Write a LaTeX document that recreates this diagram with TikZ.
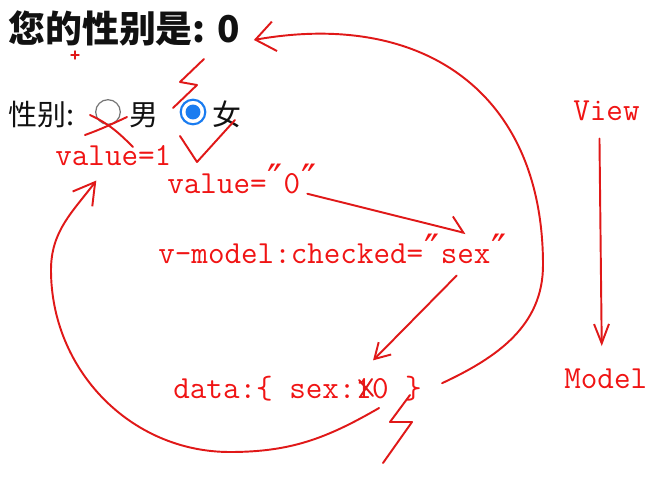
\documentclass[tikz,border=0pt]{standalone}
\usepackage{fontspec}
\usetikzlibrary{arrows.meta}
\newfontfamily\cjk{Noto Sans CJK SC}
\newfontfamily\quotefont{DejaVu Sans}
\newcommand\dq{\makebox[0.525em]{\quotefont\fontsize{23}{23}\selectfont ″}}
\definecolor{Paper}{HTML}{FFFFFF}
\definecolor{Ink}{HTML}{111111}
\definecolor{Pen}{HTML}{E01818}
\definecolor{Note}{HTML}{F01414}
\definecolor{Ring}{HTML}{767676}
\definecolor{Pick}{HTML}{1A7CF0}
\tikzset{
  pagetext/.style={anchor=base west,inner sep=0pt,font=\cjk\fontsize{16.5}{18}\selectfont,text=Ink},
  headtext/.style={pagetext,font=\cjk\bfseries\fontsize{21}{24}\selectfont},
  note/.style={anchor=base west,inner sep=0pt,font=\ttfamily\fontsize{18.3}{20}\selectfont,text=Note},
  radiooff/.style={circle,draw=Ring,line width=0.7pt,fill=white,minimum size=14pt,inner sep=0pt},
  radioon/.style={circle,draw=Pick,line width=1.2pt,fill=white,minimum size=14pt,inner sep=0pt},
  pen/.style={draw=Pen,line width=1.1pt,line cap=round,line join=round}
}

\begin{document}
\begin{tikzpicture}[x=0.02cm,y=-0.02cm]
  \fill[Paper] (0,0) rectangle (653,477);
  \useasboundingbox (0,0) rectangle (653,477);
  \node[headtext] (title) at (8,42) {您的性别是: 0};
  \node[pagetext] (sexlbl) at (8,125) {性别:};
  \node[radiooff] (radM) at (108,112) {};
  \node[pagetext] (boy) at (129,125) {男};
  \node[radioon] (radF) at (193,112) {};
  \node[circle,fill=Pick,inner sep=0pt,minimum size=8.5pt] (dotF) at (radF) {};
  \node[pagetext] (girl) at (212,125) {女};
  \node[note] (val1) at (55,165) {value=1};
  \node[note] (val0) at (167,193) {value=\dq0\dq};
  \node[note] (vmod) at (158,263) {v-model:checked=};
  \node[note] (sexq) at (vmod.base east) {\dq sex\dq};
  \node[note] (data) at (173,398) {data:\{ sex:10 \}};
  \node[note] (view) at (573,120) {View};
  \node[note] (model) at (564,388) {Model};
  \draw[pen,line width=0.8pt] (75,51) -- (75,59) (71,55) -- (79,55);
  \draw[pen] (85,135) to[out=20,in=205] (127,117);
  \draw[pen] (90,115) to[out=-25,in=135] (133,147);
  \draw[pen] (204,59) -- (180,82) -- (197,85) -- (173,108);
  \draw[pen] (180,136) -- (197,162) -- (235,120);
  \draw[pen] (410,395) -- (390,422) -- (412,422) -- (383,463);
  \draw[pen] (359,380) -- (373,396) (372,379) -- (360,397);
  \draw[pen,-{Straight Barb[length=11pt,width=8.5pt]}] ([shift={(-7,18)}]view.south) -- ([shift={(-4,-22)}]model.north);
  \draw[pen,-{Straight Barb[harpoon,length=8pt,width=15pt]}] ([shift={(-10,0)}]val0.south east) -- (sexq.north);
  \draw[pen,-{Straight Barb[length=8.5pt,width=10pt]}] ([shift={(-9,12)}]sexq.south) -- ([shift={(-49,-15)}]data.north east);
  \draw[pen,-{Straight Barb[length=11pt,width=17pt]}] ([shift={(20,-5)}]data.east) to[out=25,in=-90] (543,265) to[out=90,in=10,looseness=1.2] ([shift={(14,12)}]title.east);
  \draw[pen,-{Straight Barb[length=12pt,width=14pt]}] ([shift={(-43,7)}]data.south east) to[out=-150,in=0] (230,452) to[out=180,in=-90] (51,270) to[out=90,in=-127] ([shift={(-17,15)}]val1.south);
\end{tikzpicture}
\end{document}
